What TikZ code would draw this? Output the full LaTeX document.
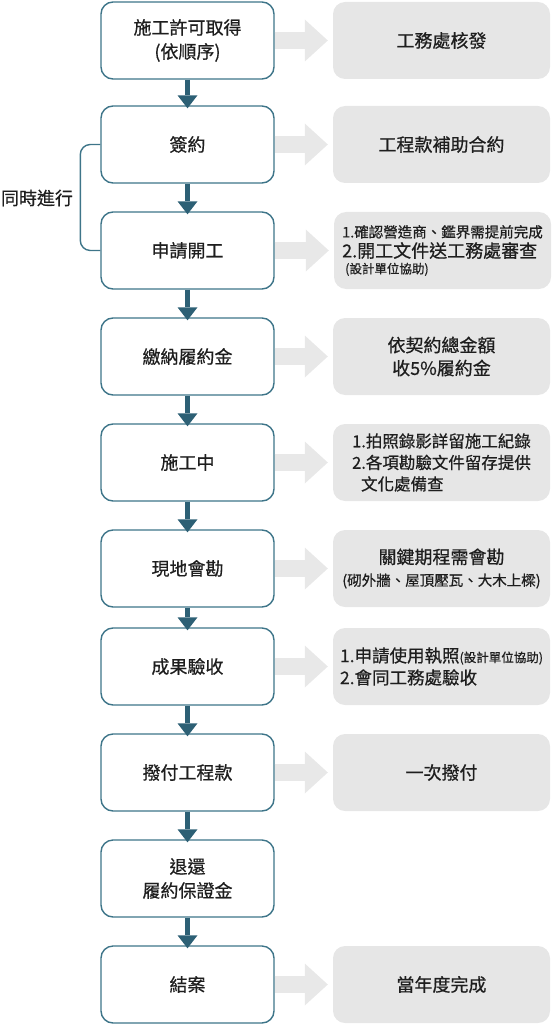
\documentclass[tikz,border=0pt]{standalone}
\usepackage{fontspec}
\newfontfamily\cjk[FakeBold=0.6]{Noto Sans CJK TC}
\usetikzlibrary{arrows.meta}
\definecolor{boxc}{HTML}{3E7589}
\definecolor{darrc}{HTML}{2D6075}
\definecolor{greyf}{HTML}{E6E6E6}
\definecolor{greya}{HTML}{E8E8E8}
\definecolor{txt}{HTML}{1E1E1E}
\tikzset{
  stepbox/.style={draw=boxc, line width=1.4pt, fill=white, rounded corners=12pt,
    minimum width=173pt, minimum height=77pt, inner sep=0pt, align=center,
    text=txt, font=\cjk\fontsize{18}{24}\selectfont},
  notebox/.style={fill=greyf, rounded corners=12pt, minimum width=217pt,
    minimum height=77pt, inner sep=0pt, text=txt, font=\cjk\fontsize{18}{23}\selectfont},
  flowarrow/.style={draw=darrc, line width=4.5pt,
    -{Triangle[length=13pt,width=20pt,line width=0pt]}, shorten >=-3pt},
  notearrow/.style={draw=greya, line width=17pt,
    -{Triangle[length=23pt,width=42pt,line width=0pt]}, shorten >=5pt},
  bracketline/.style={draw=boxc, line width=1.4pt, rounded corners=10pt},
  sidelabel/.style={text=txt, font=\cjk\fontsize{18}{22}\selectfont, inner sep=0pt},
}
\begin{document}
\begin{tikzpicture}[x=1pt,y=-1pt]
\useasboundingbox (0,0) rectangle (553,1024);
% right note boxes
\node[notebox, align=center] (r1) at (441.5,40.5) {工務處核發};
\node[notebox, align=center] (r2) at (441.5,144.5) {工程款補助合約};
\node[notebox, align=left] (r3) at (442.5,250.5) {{\fontsize{14.5}{18}\selectfont 1.確認營造商、鑑界需提前完成}\\[-3pt]
2.開工文件送工務處審查\\[-7pt]
{\fontsize{12.5}{15}\selectfont \hspace*{3pt}(設計單位協助)}};
\node[notebox, align=center] (r4) at (441.5,356.5) {依契約總金額\\收5\%履約金};
\node[notebox, align=left, font=\cjk\fontsize{16.5}{21.5}\selectfont] (r5) at (441.5,462.5) {1.拍照錄影詳留施工紀錄\\
2.各項勘驗文件留存提供\\
\hspace*{9pt}文化處備查};
\node[notebox, align=center] (r6) at (441.5,568.5) {關鍵期程需會勘\\[-1pt]
{\fontsize{14.5}{18}\selectfont (砌外牆、屋頂壓瓦、大木上樑)}};
\node[notebox, align=left, font=\cjk\fontsize{17.5}{22}\selectfont] (r7) at (441.5,666.5) {1.申請使用執照{\fontsize{12.5}{15}\selectfont (設計單位協助)}\\
2.會同工務處驗收};
\node[notebox, align=center] (r8) at (441.5,772.5) {一次撥付};
\node[notebox, align=center] (r10) at (441.5,984.5) {當年度完成};
% left step boxes
\node[stepbox] (l1) at (187.5,40.5) {施工許可取得\\(依順序)};
\node[stepbox] (l2) at (187.5,144.5) {簽約};
\node[stepbox] (l3) at (187.5,250.5) {申請開工};
\node[stepbox] (l4) at (187.5,356.5) {繳納履約金};
\node[stepbox] (l5) at (187.5,462.5) {施工中};
\node[stepbox] (l6) at (187.5,568.5) {現地會勘};
\node[stepbox] (l7) at (187.5,666.5) {成果驗收};
\node[stepbox] (l8) at (187.5,772.5) {撥付工程款};
\node[stepbox] (l9) at (187.5,878.5) {退還\\履約保證金};
\node[stepbox] (l10) at (187.5,984.5) {結案};
% grey arrows
\foreach \i in {1,...,8,10} {
  \draw[notearrow] (l\i.east) -- (r\i.west);
}
% flow arrows
\foreach \i [evaluate=\i as \j using int(\i+1)] in {1,...,9} {
  \draw[flowarrow] (l\i.south) -- (l\j.north);
}
% bracket
\draw[bracketline] (l2.west) -- ++(-20,0) |- (l3.west);
\node[sidelabel] (sim) at (37,198) {同時進行};
\end{tikzpicture}
\end{document}
